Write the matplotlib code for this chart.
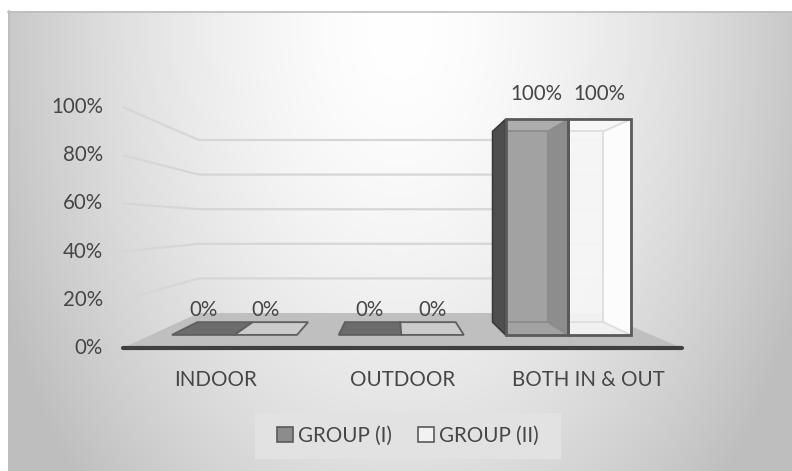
import numpy as np
import matplotlib
matplotlib.use("Agg")
import matplotlib.pyplot as plt
from matplotlib.patches import Polygon, Rectangle, Patch

# ---------------- data ----------------
categories = ["INDOOR", "OUTDOOR", "BOTH IN & OUT"]
series_names = ["GROUP (I)", "GROUP (II)"]
group1 = [0, 0, 100]
group2 = [0, 0, 100]
y_ticks = [0, 20, 40, 60, 80, 100]
y_tick_labels = ["0%", "20%", "40%", "60%", "80%", "100%"]

# ---------------- style / geometry ----------------
W, H = 792, 471
FONT = ["Lato", "DejaVu Sans"]
TXT = "#464646"
FS = 14.8
CX, CY = 393.0, 224.0      # vanishing point (px)
K = 0.393                  # perspective depth factor
X0, CW = 122.5, 186.5      # front-plane x of category -0.5 and category width
Y0, VS = 348.0, 2.41       # front-plane y of 0% and px per %
BAR_W = 0.375
Z0, Z1 = 0.30, 0.67


def P(u, v, z):
    X = X0 + (u + 0.5) * CW
    Y = Y0 - v * VS
    s = 1.0 / (1.0 + K * z)
    return (CX + (X - CX) * s, CY + (Y - CY) * s)


fig = plt.figure(figsize=(W / 100, H / 100), dpi=100)
fig.patch.set_facecolor("white")
ax = fig.add_axes([0, 0, 1, 1])
ax.set_xlim(0, W)
ax.set_ylim(H, 0)
ax.axis("off")

# background radial gradient
xs = np.arange(8, W) + 0.5
ys = np.arange(11, H) + 0.5
gx, gy = np.meshgrid(xs, ys)
r = np.sqrt(((gx - 400) / 390) ** 2 + ((gy - 30) / 600) ** 2)
val = np.clip(255 - 54 * r ** 1.6, 190, 255) / 255.0
img = np.dstack([val, val, val])
ax.imshow(img, extent=(8, W, H, 11), zorder=0, interpolation="bilinear", aspect="auto")
ax.plot([8, W], [11.5, 11.5], color="#bdbdbd", lw=1.2, zorder=1)
ax.plot([8.5, 8.5], [11, H], color="#bdbdbd", lw=1.2, zorder=1)

ncat = len(categories)
umin, umax = -0.5, ncat - 0.5

# floor
floor = [P(umin, 0, 0), P(umax, 0, 0), P(umax, 0, 1), P(umin, 0, 1)]
ax.add_patch(Polygon(floor, closed=True, facecolor="#bfbfbf", edgecolor="none", zorder=2))

# gridlines on side wall + back wall
for t in y_ticks[1:]:
    pts = [P(umin, t, 0), P(umin, t, 1), P(umax, t, 1)]
    ax.plot([p[0] for p in pts], [p[1] for p in pts], color="#d6d6d6", lw=1.6,
            zorder=2, solid_capstyle="butt")

# axis line
ax.plot([P(umin, 0, 0)[0], P(umax, 0, 0)[0]], [Y0, Y0], color="#3f3f3f", lw=3, zorder=6,
        solid_capstyle="round")

# y tick labels
for t, lab in zip(y_ticks, y_tick_labels):
    ax.text(103, Y0 - t * VS, lab, ha="right", va="center", fontsize=FS,
            family=FONT, color=TXT, zorder=7)

# category labels
for i, c in enumerate(categories):
    ax.text(P(i, 0, 0)[0], 380, c, ha="center", va="center", fontsize=FS,
            family=FONT, color=TXT, zorder=7)


def draw_bar(u0, u1, v, style):
    fb = [P(u0, 0, Z0), P(u1, 0, Z0), P(u1, 0, Z1), P(u0, 0, Z1)]  # bottom
    if v <= 0:
        ax.add_patch(Polygon(fb, closed=True, facecolor=style["flat"],
                             edgecolor="#5e5e5e", lw=1.3, zorder=4, joinstyle="miter"))
        return
    front = [P(u0, 0, Z0), P(u1, 0, Z0), P(u1, v, Z0), P(u0, v, Z0)]
    back = [P(u0, 0, Z1), P(u1, 0, Z1), P(u1, v, Z1), P(u0, v, Z1)]
    left = [P(u0, 0, Z0), P(u0, 0, Z1), P(u0, v, Z1), P(u0, v, Z0)]
    right = [P(u1, 0, Z0), P(u1, 0, Z1), P(u1, v, Z1), P(u1, v, Z0)]
    top = [P(u0, v, Z0), P(u1, v, Z0), P(u1, v, Z1), P(u0, v, Z1)]
    # left side face (visible)
    if style["left"]:
        ax.add_patch(Polygon(left, closed=True, facecolor=style["left"],
                             edgecolor="#3a3a3a", lw=1.2, zorder=4))
    # front face
    fp = Polygon(front, closed=True, facecolor=style["front"],
                 alpha=style["alpha"], edgecolor="none", zorder=5)
    ax.add_patch(fp)
    clip = Polygon(front, closed=True, transform=ax.transData)
    # seen-through right face
    rp = Polygon(right, closed=True, facecolor=style["rightc"],
                 alpha=style["righta"], edgecolor="none", zorder=5)
    ax.add_patch(rp)
    rp.set_clip_path(clip)
    # top face seen from below
    tp = Polygon(top, closed=True, facecolor="white", alpha=0.12,
                 edgecolor="none", zorder=5)
    ax.add_patch(tp)
    tp.set_clip_path(clip)
    # hidden back edges
    bp = Polygon(back, closed=True, facecolor="none",
                 edgecolor=style["inner"], lw=1.3, zorder=5)
    ax.add_patch(bp)
    bp.set_clip_path(clip)
    for a, b in [(right[0], right[1]), (right[3], right[2])]:
        ln, = ax.plot([a[0], b[0]], [a[1], b[1]], color=style["inner"], lw=1.3, zorder=5)
        ln.set_clip_path(clip)
    # front outline
    ax.add_patch(Polygon(front, closed=True, facecolor="none",
                         edgecolor="#5a5a5a", lw=2.0, zorder=6, joinstyle="miter"))


styles = [
    dict(flat="#6c6c6c", front="#a2a2a2", alpha=1.0, left="#4e4e4e",
         rightc="#000000", righta=0.13, inner="#8c8c8c"),
    dict(flat="#cbcbcb", front="#f7f7f7", alpha=0.9, left=None,
         rightc="#ffffff", righta=0.8, inner="#dedede"),
]

for i in range(ncat):
    for k, vals in enumerate([group1, group2]):
        u0 = i - BAR_W + k * BAR_W
        u1 = u0 + BAR_W
        draw_bar(u0, u1, vals[i], styles[k])
        fx = P((u0 + u1) / 2, vals[i], Z0)
        ax.text(fx[0], fx[1] - 25, f"{vals[i]:.0f}%", ha="center", va="center",
                fontsize=FS, family=FONT, color=TXT, zorder=7)

# legend
ax.add_patch(Rectangle((255, 413), 306, 46, facecolor="#e2e2e2", edgecolor="none", zorder=3))
handles = [Patch(facecolor="#8c8c8c", edgecolor="#5a5a5a", lw=1.2),
           Patch(facecolor="#f2f2f2", edgecolor="#5a5a5a", lw=1.2)]
leg = ax.legend(handles, series_names, loc="center", bbox_to_anchor=(408 / W, 1 - 436 / H),
                bbox_transform=fig.transFigure, ncol=2, frameon=False,
                handlelength=0.75, handleheight=0.75, handletextpad=0.25,
                columnspacing=1.3, prop={"family": FONT, "size": FS})
for t in leg.get_texts():
    t.set_color(TXT)
leg.set_zorder(8)

fig.savefig("out.png", dpi=100)
